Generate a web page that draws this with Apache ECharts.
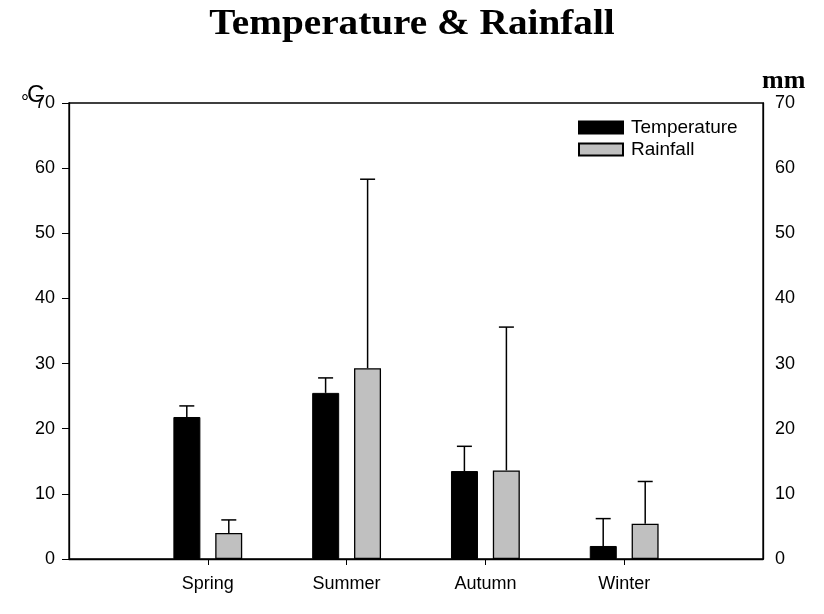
<!DOCTYPE html>
<html>
<head>
<meta charset="utf-8">
<script src="https://cdn.jsdelivr.net/npm/echarts@6/dist/echarts.min.js"></script>
<style>html,body{margin:0;padding:0;background:#fff;}#chart{width:824px;height:614px;}</style>
</head>
<body>
<div id="chart"></div>
<script>
var categories = ['', 'Spring', 'Summer', 'Autumn', 'Winter', ''];
var tempMean = [21.8, 25.5, 13.5, 2.0];
var tempErr = [1.7, 2.3, 3.8, 4.2];
var rainMean = [4.0, 29.3, 13.6, 5.4];
var rainErr = [2.0, 29.0, 22.0, 6.5];
var yTicks = [0, 10, 20, 30, 40, 50, 60, 70];

var SANS = "'Liberation Sans', Arial, sans-serif";
var SERIF = "'Liberation Serif', 'Times New Roman', serif";
var BAR_W = 27, BAR_GAP = '55%', OFFSET = 21;

function padded(arr) { return ['-'].concat(arr).concat(['-']); }
function errData(means, errs) {
  return means.map(function (m, i) { return [i + 1, m, errs[i]]; });
}
function errRender(offset) {
  return function (params, api) {
    var idx = api.value(0), v = api.value(1), e = api.value(2);
    var p0 = api.coord([idx, v]);
    var p1 = api.coord([idx, v + e]);
    var x = p0[0] + offset, cap = 7.5;
    var st = { stroke: '#000', lineWidth: 1.5 };
    return { type: 'group', children: [
      { type: 'line', shape: { x1: x, y1: p0[1], x2: x, y2: p1[1] }, style: st },
      { type: 'line', shape: { x1: x - cap, y1: p1[1], x2: x + cap, y2: p1[1] }, style: st }
    ]};
  };
}

var chart = echarts.init(document.getElementById('chart'));
chart.setOption({
  animation: false,
  backgroundColor: '#fff',
  grid: { left: 69, right: 61, top: 103, bottom: 55, show: true, borderColor: '#000', borderWidth: 1.3 },
  legend: {
    left: 578, top: 118, orient: 'vertical', itemWidth: 44, itemHeight: 12, itemGap: 3, padding: 0,
    icon: 'rect',
    data: ['Temperature', 'Rainfall'],
    textStyle: { fontFamily: SANS, fontSize: 19, color: '#000', padding: [0, 0, 0, 3] }
  },
  graphic: [
    { type: 'text', x: 412, y: 7, originX: 0, scaleX: 1.09,
      style: { text: 'Temperature & Rainfall', font: 'bold 36px ' + SERIF, fill: '#000', align: 'center', verticalAlign: 'top' } },
    { type: 'text', left: 762, top: 68, style: { text: 'mm', font: 'bold 26px ' + SERIF, fill: '#000' } },
    { type: 'text', left: 27, top: 83, style: { text: 'C', font: '24px ' + SANS, fill: '#000' } },
    { type: 'text', left: 21, top: 93, style: { text: '°', font: '20px ' + SANS, fill: '#000' } }
  ],
  xAxis: {
    type: 'category', data: categories, boundaryGap: false,
    axisLine: { lineStyle: { color: '#000', width: 1.3 } },
    axisTick: { length: 6, lineStyle: { color: '#000' }, interval: function (i, v) { return v !== ''; } },
    axisLabel: { fontFamily: SANS, fontSize: 18, color: '#000', margin: 16, interval: 0 },
    splitLine: { show: false }
  },
  yAxis: [
    { type: 'value', min: 0, max: 70, interval: 10,
      axisLine: { show: true, lineStyle: { color: '#000', width: 1.3 } },
      axisTick: { show: true, length: 7, lineStyle: { color: '#000' } },
      axisLabel: { fontFamily: SANS, fontSize: 18, color: '#000', margin: 14 },
      splitLine: { show: false } },
    { type: 'value', min: 0, max: 70, interval: 10, position: 'right',
      axisLine: { show: true, lineStyle: { color: '#000', width: 1.3 } },
      axisTick: { show: false },
      axisLabel: { fontFamily: SANS, fontSize: 18, color: '#000', margin: 12 },
      splitLine: { show: false } }
  ],
  series: [
    { name: 'Temperature', type: 'bar', data: padded(tempMean), barWidth: BAR_W, barGap: BAR_GAP,
      itemStyle: { color: '#000', borderColor: '#000', borderWidth: 1 } },
    { name: 'Rainfall', type: 'bar', yAxisIndex: 1, data: padded(rainMean), barWidth: BAR_W, barGap: BAR_GAP,
      itemStyle: { color: '#c0c0c0', borderColor: '#000', borderWidth: 1.3 } },
    { type: 'custom', renderItem: errRender(-OFFSET), data: errData(tempMean, tempErr), z: 5 },
    { type: 'custom', yAxisIndex: 1, renderItem: errRender(OFFSET), data: errData(rainMean, rainErr), z: 5 }
  ]
});
</script>
</body>
</html>
